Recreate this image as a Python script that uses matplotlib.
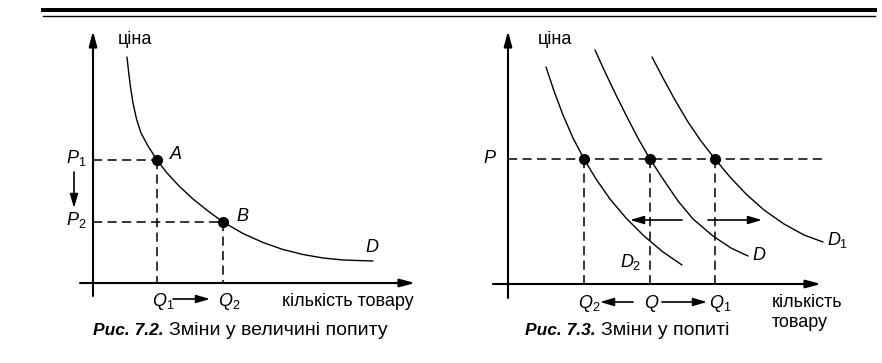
import matplotlib
matplotlib.use("Agg")
import matplotlib.pyplot as plt
from matplotlib.lines import Line2D

plt.rcParams['font.family'] = ['Liberation Sans', 'DejaVu Sans']
plt.rcParams['mathtext.fontset'] = 'custom'
plt.rcParams['mathtext.it'] = 'Liberation Sans:italic'
plt.rcParams['mathtext.rm'] = 'Liberation Sans'
plt.rcParams['mathtext.bf'] = 'Liberation Sans:bold'

# ---------------- data (panel units) ----------------
# Fig 7.2: movement along the demand curve
left_curve_q = [3.4, 3.55, 3.75, 4.0, 4.35, 4.8, 5.5, 6.4, 7.4, 8.6, 10.0, 11.5, 13.0,
                15.0, 17.0, 19.0, 21.0, 23.0, 25.0, 28.0]
left_curve_p = [22.6, 21.2, 19.6, 18.0, 16.4, 15.0, 13.7, 12.3, 11.0, 9.7, 8.4, 7.2, 6.1,
                4.95, 4.05, 3.35, 2.85, 2.5, 2.3, 2.2]
left_point_q = [6.4, 13.0]
left_point_p = [12.3, 6.1]
left_point_names = ['A', 'B']
left_price_labels = [r'$P_1$', r'$P_2$']
left_qty_labels = [r'$Q_1$', r'$Q_2$']

# Fig 7.3: shifts of the demand curve
d2_q = [3.8, 4.6, 5.5, 6.5, 7.6, 8.8, 10.2, 11.8, 13.6, 15.5, 17.4]
d2_p = [21.7, 19.3, 16.9, 14.6, 12.5, 10.5, 8.5, 6.6, 4.8, 3.2, 1.9]
d_q = [8.7, 9.7, 10.8, 12.0, 13.1, 14.2, 15.5, 17.0, 18.5, 20.5, 22.3, 24.0]
d_p = [23.4, 21.2, 18.9, 16.5, 14.4, 12.5, 10.5, 8.3, 6.5, 4.8, 3.6, 2.8]
d1_q = [14.4, 15.5, 16.7, 18.0, 19.3, 20.7, 22.2, 23.8, 25.6, 27.6, 29.6, 31.5]
d1_p = [22.7, 20.6, 18.4, 16.2, 14.3, 12.5, 10.7, 9.0, 7.4, 6.0, 4.9, 4.2]
right_price = 12.5
right_point_q = [7.6, 14.2, 20.7]
right_qty_labels = [r'$Q_2$', r'$Q$', r'$Q_1$']
curve_names = [r'$D_2$', r'$D$', r'$D_1$']

# ---------------- figure ----------------
W, H = 882, 363
fig = plt.figure(figsize=(W / 100, H / 100), dpi=100)
axL = fig.add_axes([0, 0, 443 / W, 1])
axR = fig.add_axes([443 / W, 0, (W - 443) / W, 1])
axL.set_xlim(-9.3, 35.0); axL.set_ylim(-8.0, 28.3)
axR.set_xlim(-6.5, 37.4); axR.set_ylim(-7.9, 28.4)
for ax in (axL, axR):
    ax.axis('off')

# top double rule
fig.add_artist(Line2D([43 / W, 875 / W], [1 - 10 / H, 1 - 10 / H], transform=fig.transFigure,
                      color='black', lw=2.9))
fig.add_artist(Line2D([43 / W, 875 / W], [1 - 15.5 / H, 1 - 15.5 / H], transform=fig.transFigure,
                      color='black', lw=1.0))

K = 'black'
dash = (0, (6, 3.5))
axis_arrow = dict(arrowstyle='-|>,head_length=0.75,head_width=0.2', lw=1.5, color=K,
                  shrinkA=0, shrinkB=0, mutation_scale=12)
small_arrow = dict(arrowstyle='-|>,head_length=0.75,head_width=0.22', lw=1.2, color=K,
                   shrinkA=0, shrinkB=0, mutation_scale=11)
lab = dict(fontsize=13, color=K)
itl = dict(fontsize=13, color=K)


def axes_lines(ax, x0, x1, y0, y1):
    ax.annotate('', xy=(x1, 0), xytext=(x0, 0), arrowprops=axis_arrow, annotation_clip=False)
    ax.annotate('', xy=(0, y1), xytext=(0, y0), arrowprops=axis_arrow, annotation_clip=False)


def caption(ax, x, y, bold, rest):
    t1 = ax.text(x, y, bold, fontsize=12.5, fontweight='bold', fontstyle='italic', color=K,
                 va='baseline', ha='left')
    fig.canvas.draw()
    bb = t1.get_window_extent()
    xd = ax.transData.inverted().transform((bb.x1 + 5, 0))[0]
    ax.text(xd, y, rest, fontsize=14, color=K, va='baseline', ha='left')


# ---------------- left panel ----------------
axes_lines(axL, -1.3, 32.2, -1.3, 25.2)
axL.plot(left_curve_q, left_curve_p, color=K, lw=1.0, solid_capstyle='round',
         solid_joinstyle='round')
for q, p, name, pl, ql in zip(left_point_q, left_point_p, left_point_names,
                              left_price_labels, left_qty_labels):
    axL.plot([0, q], [p, p], color=K, lw=1.1, ls=dash)
    axL.plot([q, q], [p, 0], color=K, lw=1.1, ls=dash)
    axL.text(q + 1.3, p + 0.1, name, fontstyle='italic', va='baseline', ha='left', **itl)
    axL.text(-0.7, p - 0.3, pl, va='baseline', ha='right', **itl)
    axL.text(q - 0.5, -2.3, ql, va='baseline', ha='left', **itl)
axL.plot(left_point_q, left_point_p, 'o', color=K, ms=7)
axL.annotate('', xy=(-1.9, 7.5), xytext=(-1.9, 11.1), arrowprops=small_arrow, annotation_clip=False)
axL.annotate('', xy=(11.7, -1.6), xytext=(8.0, -1.6), arrowprops=small_arrow, annotation_clip=False)
axL.text(27.2, 3.1, 'D', fontstyle='italic', va='baseline', ha='left', **itl)
axL.text(2.5, 24.3, 'ціна', va='center', ha='left', **lab)
axL.text(18.9, -2.3, 'кількість товару', va='baseline', ha='left', **lab)

# ---------------- right panel ----------------
axes_lines(axR, -1.5, 31.3, -1.4, 25.3)
axR.plot([0, 31.7], [right_price, right_price], color=K, lw=1.1, ls=dash)
for cq, cp in ((d2_q, d2_p), (d_q, d_p), (d1_q, d1_p)):
    axR.plot(cq, cp, color=K, lw=1.0, solid_capstyle='round', solid_joinstyle='round')
for q, ql in zip(right_point_q, right_qty_labels):
    axR.plot([q, q], [right_price, 0], color=K, lw=1.1, ls=dash)
    axR.text(q - 0.6, -2.4, ql, va='baseline', ha='left', **itl)
axR.plot(right_point_q, [right_price] * len(right_point_q), 'o', color=K, ms=7)
axR.text(-1.1, right_price - 0.4, r'$P$', va='baseline', ha='right', **itl)
axR.text(11.2, 1.7, curve_names[0], va='baseline', ha='left', **itl)
axR.text(24.4, 2.4, curve_names[1], va='baseline', ha='left', **itl)
axR.text(31.9, 3.9, curve_names[2], va='baseline', ha='left', **itl)
axR.annotate('', xy=(12.2, 6.4), xytext=(17.4, 6.4), arrowprops=small_arrow, annotation_clip=False)
axR.annotate('', xy=(25.4, 6.4), xytext=(20.0, 6.4), arrowprops=small_arrow, annotation_clip=False)
axR.annotate('', xy=(9.2, -1.8), xytext=(12.5, -1.8), arrowprops=small_arrow, annotation_clip=False)
axR.annotate('', xy=(19.9, -1.8), xytext=(15.4, -1.8), arrowprops=small_arrow, annotation_clip=False)
axR.text(3.0, 24.4, 'ціна', va='center', ha='left', **lab)
axR.text(26.4, -2.3, 'кількість', va='baseline', ha='left', **lab)
axR.text(26.4, -4.3, 'товару', va='baseline', ha='left', **lab)

caption(axL, 0.0, -5.2, 'Рис. 7.2.', 'Зміни у величині попиту')
caption(axR, 1.7, -5.1, 'Рис. 7.3.', 'Зміни у попиті')

fig.savefig('out.png', dpi=100)
